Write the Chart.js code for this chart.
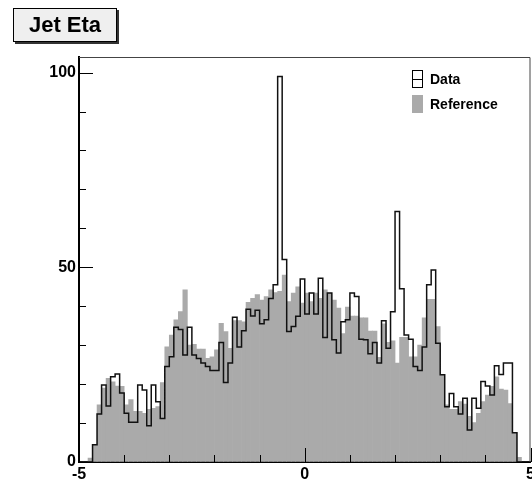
<!DOCTYPE html>
<html>
<head>
<meta charset="utf-8">
<script src="https://cdn.jsdelivr.net/npm/chart.js@4/dist/chart.umd.min.js"></script>
<style>
  html, body { margin: 0; padding: 0; background: #fff; overflow: hidden; width: 532px; height: 482px; }
  #wrap { position: absolute; left: 0; top: 0; width: 545px; height: 482px; }
  #title {
    position: absolute; left: 13px; top: 8px; width: 102px; height: 32px;
    background: #efefef; border: 1px solid #000; box-shadow: 2px 2px 0 #333;
    font: bold 22px "Liberation Sans", Arial, sans-serif; color: #000;
    text-align: center; line-height: 32px;
  }
  .leg { position: absolute; left: 412px; font: bold 14px "Liberation Sans", Arial, sans-serif; color: #000; }
  .leg .ico { position: absolute; left: 0; width: 11px; height: 18px; box-sizing: border-box; }
  .leg .txt { position: absolute; left: 18px; top: 0; line-height: 18px; white-space: nowrap; }
</style>
</head>
<body>
<div id="wrap">
  <canvas id="histo" width="545" height="482"></canvas>
</div>
<div id="title">Jet Eta</div>
<div class="leg" style="top:70px">
  <div class="ico" style="border:1px solid #000;"><div style="position:absolute;left:0;right:0;top:8px;height:1px;background:#000"></div></div>
  <div class="txt" id="lab0"></div>
</div>
<div class="leg" style="top:95px">
  <div class="ico" style="background:#aaaaaa;"></div>
  <div class="txt" id="lab1"></div>
</div>
<script>
// 100 bins in eta, -5 .. 5
const etaMin = -5;
const etaMax = 5;
const nBins = 100;
const seriesNames = ['Data', 'Reference'];

const dataCounts = [
  0, 0, 0, 4.4, 12.3, 19.8, 14.4, 21.9, 22.6, 17.7,
  12.5, 10.2, 10.2, 19.8, 18.5, 9.3, 19.8, 15.5, 11.2, 24.5,
  27, 34.6, 34, 27.5, 34.6, 27.5, 26.6, 25.4, 24.5, 23.5,
  23.5, 30.7, 20.4, 25.4, 37.2, 29.5, 33.7, 39.2, 37.5, 39,
  35.5, 36.5, 42, 45.5, 99, 52, 33.5, 34.8, 37.4, 47,
  38, 43.4, 38, 47.2, 32, 43.4, 31.4, 28, 36, 36.5,
  43.4, 42.5, 31.5, 31.4, 27.8, 30.7, 25.4, 36.3, 29.2, 38.6,
  64.3, 44.5, 32.6, 31.5, 24.5, 23.5, 29.5, 45.5, 49.3, 30.5,
  22.4, 14.2, 17.6, 14.2, 12.3, 16.4, 8.2, 16.4, 13.8, 20.7,
  19.5, 17.2, 24.7, 22.5, 25.4, 25.4, 7.5, 0, 0, 0
];

const refCounts = [
  0, 0, 1, 4.5, 14.7, 19, 21.5, 20.6, 19.5, 19.4,
  14.7, 16, 13, 13, 12.5, 13.5, 13.8, 14.2, 20.4, 29.6,
  32.6, 36.5, 38.6, 44.2, 30, 30.2, 29, 29, 26.6, 27,
  28.8, 35.6, 33.5, 29.2, 36.3, 36.3, 36, 41, 42, 43,
  41.6, 42.5, 44.2, 43.5, 43.8, 48, 41.2, 43.4, 45, 40.8,
  43.4, 41.2, 43.4, 42, 44.2, 43.4, 41.6, 39.5, 33, 39.8,
  37.5, 37.5, 37, 37, 33.6, 33.6, 26.9, 35.5, 30.7, 31.1,
  25.4, 32, 32, 27, 27, 30, 37, 41.8, 41.8, 34.8,
  22.4, 14.7, 13.5, 13.5, 15.5, 14.9, 11.7, 10.1, 12.5, 15.5,
  17.2, 19.4, 21.9, 18.7, 18.5, 15, 7.5, 1.2, 0, 0
];

const xTickLabels = [-5, 0, 5];
const yTickLabels = [0, 50, 100];

document.getElementById('lab0').textContent = seriesNames[0];
document.getElementById('lab1').textContent = seriesNames[1];

const binW = (etaMax - etaMin) / nBins;
const refPoints = refCounts.map((v, i) => ({ x: etaMin + binW * (i + 0.5), y: v }));
// outline: one point per bin low edge, then close at etaMax
const dataPoints = dataCounts.map((v, i) => ({ x: etaMin + binW * i, y: v }));
dataPoints.push({ x: etaMax, y: 0 });

const font = { family: '"Liberation Sans", Arial, sans-serif', size: 16, weight: 'bold' };

// ROOT style frame with ticks pointing into the pad
const frameTicks = {
  id: 'frameTicks',
  afterDatasetsDraw(chart) {
    const { ctx, chartArea: a, scales: { x, y } } = chart;
    ctx.save();
    ctx.strokeStyle = '#444';
    ctx.lineWidth = 1;
    ctx.beginPath();
    ctx.moveTo(a.left, a.top + 0.5);
    ctx.lineTo(a.right - 0.5, a.top + 0.5);
    ctx.lineTo(a.right - 0.5, a.bottom);
    ctx.stroke();
    ctx.strokeStyle = '#000';
    ctx.beginPath();
    x.ticks.forEach(t => {
      if (!Number.isInteger(t.value)) return;
      const px = Math.round(x.getPixelForValue(t.value)) + 0.5;
      const len = t.value % 5 === 0 ? 14 : 7;
      ctx.moveTo(px, a.bottom);
      ctx.lineTo(px, a.bottom - len);
    });
    y.ticks.forEach(t => {
      if (t.value % 10 !== 0) return;
      const py = Math.round(y.getPixelForValue(t.value)) + 0.5;
      const len = t.value % 50 === 0 ? 14 : 7;
      ctx.moveTo(a.left, py);
      ctx.lineTo(a.left + len, py);
    });
    ctx.stroke();
    ctx.restore();
  }
};

new Chart(document.getElementById('histo').getContext('2d'), {
  data: {
    datasets: [
      {
        type: 'line',
        label: seriesNames[0],
        data: dataPoints,
        stepped: true,
        borderColor: '#111',
        borderWidth: 1.5,
        pointRadius: 0,
        fill: false,
        order: 0
      },
      {
        type: 'bar',
        label: seriesNames[1],
        data: refPoints,
        backgroundColor: '#aaaaaa',
        borderWidth: 0,
        barPercentage: 1,
        categoryPercentage: 1,
        order: 1
      }
    ]
  },
  options: {
    responsive: false,
    animation: false,
    layout: { padding: { top: 57, right: 14.5, left: 0, bottom: 0 } },
    plugins: { legend: { display: false }, tooltip: { enabled: false } },
    scales: {
      x: {
        type: 'linear',
        min: etaMin,
        max: etaMax,
        offset: false,
        afterFit: s => { s.height = 20; },
        grid: { drawOnChartArea: false, drawTicks: false, offset: false },
        border: { display: true, color: '#000', width: 2 },
        ticks: {
          stepSize: 1, autoSkip: false, maxRotation: 0, padding: 3,
          color: '#000', font: font,
          callback: v => (xTickLabels.includes(v) ? String(v) : '')
        }
      },
      y: {
        min: 0,
        max: 104,
        afterFit: s => { s.width = 79; },
        grid: { drawOnChartArea: false, drawTicks: false },
        border: { display: true, color: '#000', width: 2 },
        ticks: {
          stepSize: 10, autoSkip: false, padding: 3, includeBounds: false,
          color: '#000', font: font,
          callback: v => (yTickLabels.includes(v) ? String(v) : '')
        }
      }
    }
  },
  plugins: [frameTicks]
});
</script>
</body>
</html>
